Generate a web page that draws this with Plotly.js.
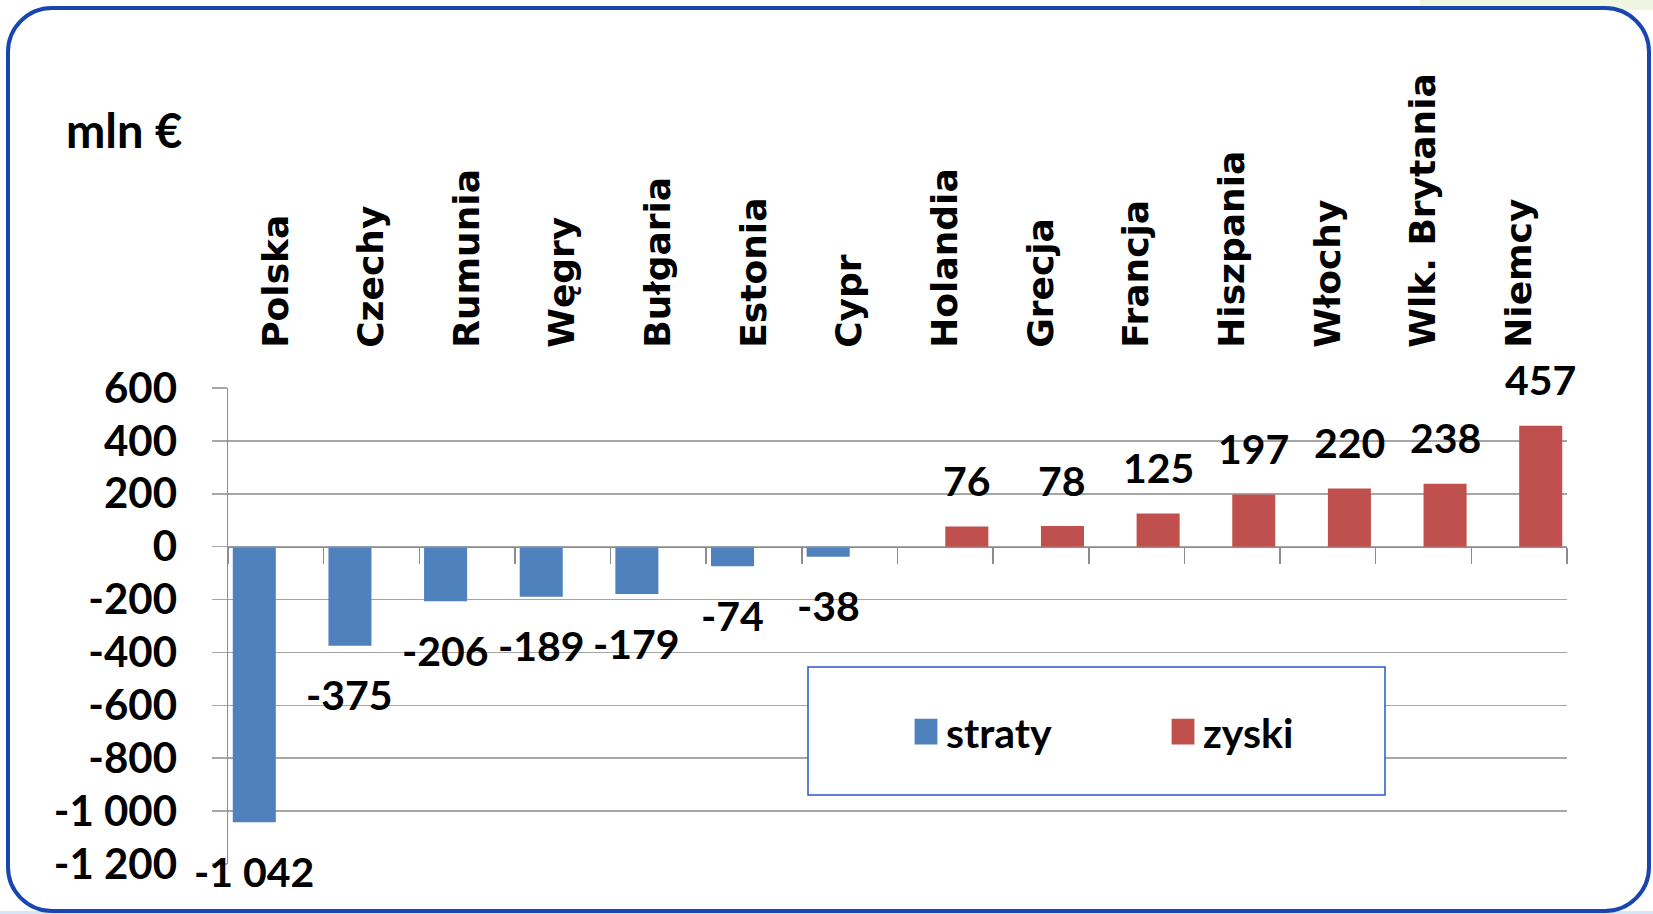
<!DOCTYPE html>
<html>
<head>
<meta charset="utf-8">
<script src="https://cdn.plot.ly/plotly-3.0.1.min.js"></script>
<style>
  html, body { margin: 0; padding: 0; background: #ffffff; }
  #wrap { position: relative; width: 1653px; height: 914px; overflow: hidden; background: #ffffff; }
  #greenstrip { position: absolute; left: 1420px; top: 0; width: 233px; height: 10px; background: #eef5e1; }
  #bluestrip { position: absolute; left: 0; top: 911px; width: 1653px; height: 3px; background: #d6e6f4; }
  #frame { position: absolute; left: 6px; top: 6px; width: 1645px; height: 907px; box-sizing: border-box;
           border: 4.5px solid #1846b0; border-radius: 46px; background: #ffffff; }
  #chart { position: absolute; left: 0; top: 0; width: 1653px; height: 914px; }
</style>
</head>
<body>
<div id="wrap">
  <div id="greenstrip"></div>
  <div id="bluestrip"></div>
  <div id="frame"></div>
  <div id="chart"></div>
</div>
<script>
// ---- data ----
const categories = ['Polska','Czechy','Rumunia','Węgry','Bułgaria','Estonia','Cypr','Holandia','Grecja','Francja','Hiszpania','Włochy','Wlk. Brytania','Niemcy'];
const straty = [-1042, -375, -206, -189, -179, -74, -38, null, null, null, null, null, null, null];
const zyski  = [null, null, null, null, null, null, null, 76, 78, 125, 197, 220, 238, 457];
const seriesNames = ['straty', 'zyski'];
const yTickVals = [600, 400, 200, 0, -200, -400, -600, -800, -1000, -1200];
const yTickText = ['600', '400', '200', '0', '-200', '-400', '-600', '-800', '-1 000', '-1 200'];
const unitLabel = 'mln €';

// ---- styles ----
const W = 1653, H = 914;
const M = { l: 228, r: 86, t: 388, b: 50 };
const plotW = W - M.l - M.r, plotH = H - M.t - M.b;
const colStraty = '#4f81bd', colZyski = '#c0504d';
const gridCol = '#a6a6a6', axisCol = '#8c8c8c';
const bargap = 0.1;
const catW = plotW / categories.length;
const barOff = (1 - bargap) * catW / 4;

function fmt(v) {
  const s = String(Math.abs(v)).replace(/\B(?=(\d{3})+(?!\d))/g, ' ');
  return (v < 0 ? '-' : '') + s;
}
function px2x(p) { return (p - M.l) / plotW; }
function px2y(p) { return (H - M.b - p) / plotH; }

const traces = [
  { type: 'bar', name: seriesNames[0], x: categories, y: straty, marker: { color: colStraty, line: { width: 0 } }, hoverinfo: 'x+y' },
  { type: 'bar', name: seriesNames[1], x: categories, y: zyski, marker: { color: colZyski, line: { width: 0 } }, hoverinfo: 'x+y' },
  { type: 'scatter', mode: 'markers', x: categories, y: categories.map(() => null), xaxis: 'x2', yaxis: 'y',
    showlegend: false, hoverinfo: 'skip', marker: { opacity: 0 } }
];

const labelFont = { family: 'Lato', size: 41, weight: 'bold', color: '#000000' };
const annotations = [];
straty.forEach((v, i) => {
  if (v === null) return;
  annotations.push({ x: categories[i], y: v, xref: 'x', yref: 'y', text: fmt(v), showarrow: false,
    xshift: -barOff, yshift: -49, yanchor: 'middle', xanchor: 'center', font: labelFont });
});
zyski.forEach((v, i) => {
  if (v === null) return;
  annotations.push({ x: categories[i], y: v, xref: 'x', yref: 'y', text: fmt(v), showarrow: false,
    xshift: barOff, yshift: 46, yanchor: 'middle', xanchor: 'center', font: labelFont });
});
annotations.push({ xref: 'paper', yref: 'paper', x: px2x(64), y: px2y(130), xanchor: 'left', yanchor: 'middle',
  text: unitLabel, showarrow: false, font: { family: 'Lato', size: 47, weight: 'bold', color: '#000000' } });

const layout = {
  width: W, height: H,
  margin: M,
  paper_bgcolor: 'rgba(0,0,0,0)', plot_bgcolor: 'rgba(0,0,0,0)',
  font: { family: 'Lato', color: '#000000' },
  barmode: 'group', bargap: bargap, bargroupgap: 0,
  showlegend: true,
  legend: { orientation: 'h', x: px2x(906), xanchor: 'left', y: px2y(732), yanchor: 'middle',
    bgcolor: 'rgba(0,0,0,0)', borderwidth: 0, entrywidth: 212, entrywidthmode: 'pixels',
    font: { family: 'Lato', size: 41, weight: 'bold', color: '#000000' } },
  xaxis: { type: 'category', categoryarray: categories, categoryorder: 'array', range: [-0.5, categories.length - 0.5],
    side: 'top', tickangle: -90, showline: false, showgrid: false, zeroline: false,
    ticks: 'outside', ticklen: 32, tickcolor: 'rgba(0,0,0,0)',
    tickfont: { family: 'DejaVu Sans', size: 36, weight: 'bold', color: '#000000' }, fixedrange: true },
  xaxis2: { type: 'category', categoryarray: categories, categoryorder: 'array', range: [-0.5, categories.length - 0.5],
    overlaying: 'x', anchor: 'free', position: 2 / 3, side: 'bottom',
    showline: true, linecolor: axisCol, linewidth: 1.5, showgrid: false, zeroline: false,
    ticks: 'outside', tickson: 'boundaries', ticklen: 16, tickwidth: 1.5, tickcolor: axisCol,
    showticklabels: false, fixedrange: true },
  yaxis: { range: [-1200, 600], tickvals: yTickVals, ticktext: yTickText,
    showgrid: true, gridcolor: gridCol, gridwidth: 1.5, zeroline: false,
    showline: true, linecolor: axisCol, linewidth: 1.5,
    ticks: 'outside', ticklen: 15, tickwidth: 1.5, tickcolor: gridCol, ticklabelstandoff: 26,
    tickfont: { family: 'Lato', size: 42, weight: 'bold', color: '#000000' }, fixedrange: true },
  shapes: [
    { type: 'rect', xref: 'paper', yref: 'paper', x0: px2x(808), x1: px2x(1385), y0: px2y(795), y1: px2y(667),
      line: { color: '#2a56c6', width: 1.5 }, fillcolor: '#ffffff', layer: 'above' }
  ],
  annotations: annotations
};

Plotly.newPlot('chart', traces, layout, { displayModeBar: false, staticPlot: true }).then(() => {
  document.querySelectorAll('#chart .legend .legendpoints path').forEach(p => {
    const t = p.getAttribute('transform') || '';
    p.setAttribute('transform', t + ' scale(1.9,2.15)');
  });
});
</script>
</body>
</html>
